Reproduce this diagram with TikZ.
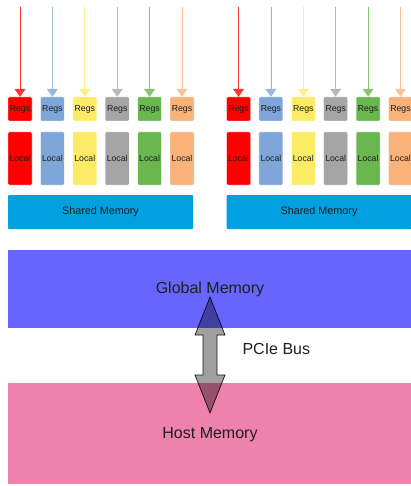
\documentclass[tikz,border=0pt]{standalone}
\usepackage{fontspec}
\setmainfont{Liberation Sans}
\usetikzlibrary{arrows.meta}

\definecolor{cRed}{HTML}{FF0000}
\definecolor{cBlue}{HTML}{7EA6D8}
\definecolor{cYellow}{HTML}{FBEB66}
\definecolor{cGray}{HTML}{A5A5A5}
\definecolor{cGreen}{HTML}{6AB750}
\definecolor{cOrange}{HTML}{F8B27A}
\definecolor{sharedC}{HTML}{00A0E1}
\definecolor{globalC}{HTML}{6666FF}
\definecolor{hostC}{HTML}{EE82AC}
\definecolor{busC}{HTML}{A0A0A0}
\definecolor{txt}{HTML}{1E1E1E}

\tikzset{
  regbox/.style={rectangle, rounded corners=1pt, minimum width=24pt, minimum height=24pt,
    inner sep=0pt, text=txt, font=\fontsize{8.7}{10}\selectfont, draw=white, line width=0.4pt},
  localbox/.style={rectangle, rounded corners=1pt, minimum width=24pt, minimum height=53pt,
    inner sep=0pt, text=txt, font=\fontsize{8.7}{10}\selectfont, draw=white, line width=0.4pt},
  sharedbox/.style={rectangle, rounded corners=1pt, fill=sharedC, minimum width=185pt,
    minimum height=34pt, inner sep=0pt, text=txt, font=\fontsize{10.8}{13}\selectfont},
  membox/.style={rectangle, minimum width=403pt, inner sep=0pt, text=txt,
    font=\fontsize{16}{19}\selectfont},
  thread/.style={line width=0.8pt, -{Triangle[width=11pt,length=8pt]}},
}

\begin{document}
\begin{tikzpicture}[x=1pt,y=-1pt]
\useasboundingbox (0,0) rectangle (411,486);
\clip (0,0) rectangle (411,486);

% two blocks of six threads: registers, local memory, shared memory
\foreach \g/\gx in {a/0,b/218.5}{
  \foreach \i/\c in {0/cRed,1/cBlue,2/cYellow,3/cGray,4/cGreen,5/cOrange}{
    \pgfmathsetmacro{\cx}{20+\gx+32.4*\i}
    \node[regbox, fill=\c] (reg\g\i) at (\cx,109) {Regs};
    \node[localbox, fill=\c] (loc\g\i) at (\cx,158.5) {Local};
    \coordinate (top\g\i) at (\cx,7);
    \draw[thread, draw=\c!80!white, fill=\c] (top\g\i) -- (reg\g\i.north);
  }
  \node[sharedbox] (sh\g) at (100.5+\gx,212) {Shared Memory};
}

% device and host memory
\node[membox, fill=globalC, minimum height=78pt, anchor=north west] (glob) at (8,250) {};
\node[text=txt, font=\fontsize{16}{19}\selectfont] (globtxt) at (210,289) {Global Memory};
\node[membox, fill=hostC, minimum height=101pt, anchor=north west] (host) at (8,383) {};
\node[text=txt, font=\fontsize{16}{19}\selectfont] (hosttxt) at (210,435) {Host Memory};

% PCIe double arrow
\begin{scope}[blend mode=multiply]
\draw[fill=busC, draw=txt, line width=0.7pt, line join=miter]
  (210,297) -- (225,335) -- (217,335) -- (217,375) -- (225,375) -- (210,413)
  -- (195,375) -- (203,375) -- (203,335) -- (195,335) -- cycle;
\end{scope}
\node[text=txt, font=\fontsize{16}{19}\selectfont, anchor=west] (bus) at (239,349) {PCIe Bus};
\end{tikzpicture}
\end{document}
